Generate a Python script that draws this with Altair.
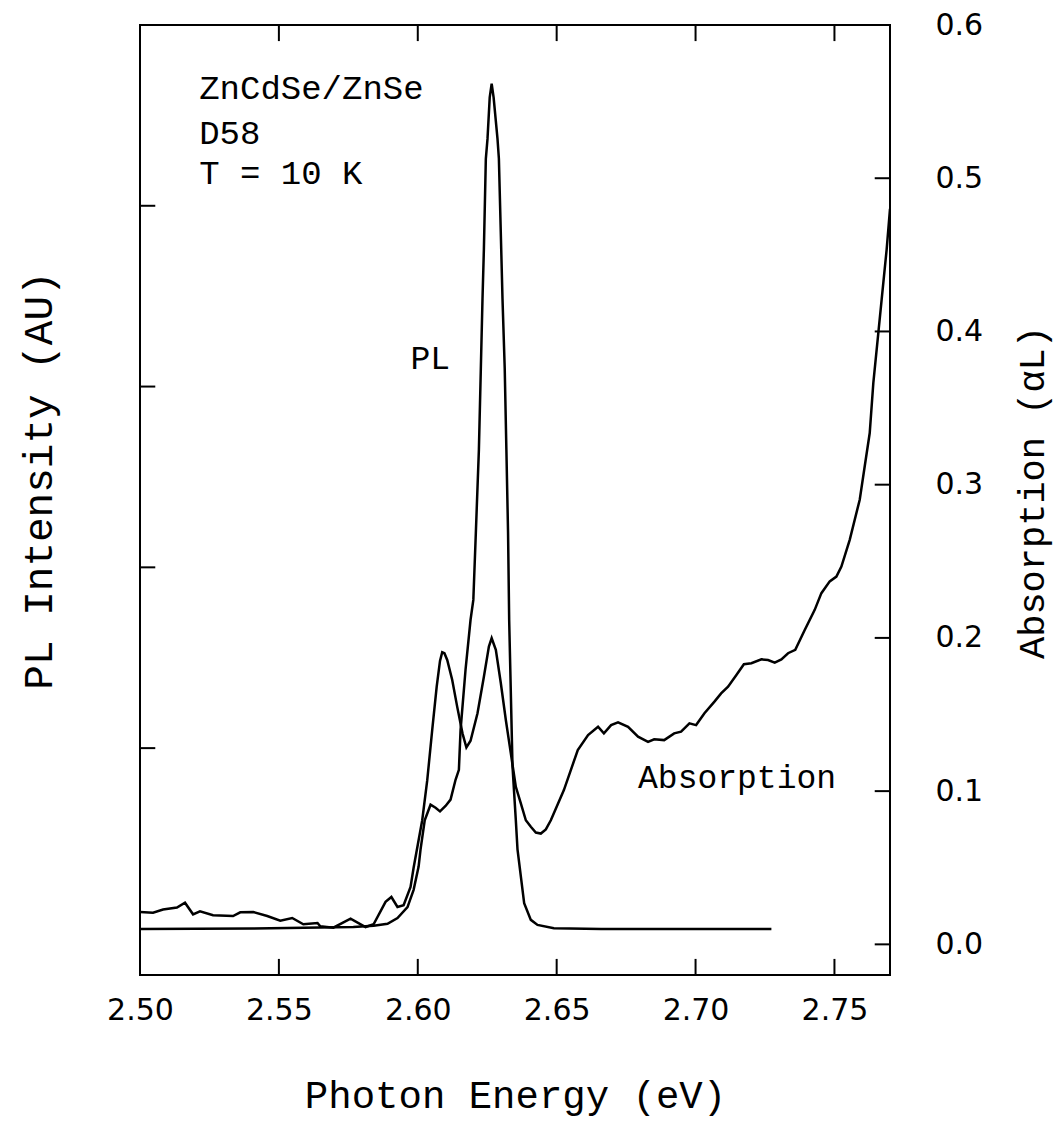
import altair as alt
import pandas as pd

# ---- data ----
pl_energy = [2.5000, 2.5408, 2.5768, 2.5841, 2.5891, 2.5927, 2.5963, 2.5985, 2.6003, 2.6010,
             2.6025, 2.6046, 2.6064, 2.6080, 2.6100, 2.6118, 2.6136, 2.6148, 2.6154, 2.6172,
             2.6190, 2.6200, 2.6209, 2.6220, 2.6227, 2.6233, 2.6238, 2.6245, 2.6251, 2.6259,
             2.6266, 2.6273, 2.6287, 2.6292, 2.6305, 2.6313, 2.6319, 2.6325, 2.6329, 2.6341,
             2.6353, 2.6359, 2.6383, 2.6407, 2.6431, 2.6490, 2.6660, 2.7273]
pl_intensity = [0.000, 0.002, 0.010, 0.017, 0.028, 0.060, 0.120, 0.216, 0.345, 0.440,
                0.600, 0.687, 0.670, 0.650, 0.680, 0.715, 0.825, 0.880, 1.100, 1.435,
                1.710, 1.820, 2.190, 2.650, 3.100, 3.485, 3.760, 4.260, 4.370, 4.600,
                4.676, 4.600, 4.370, 4.260, 3.485, 3.100, 2.650, 2.190, 1.710, 0.900,
                0.600, 0.440, 0.142, 0.050, 0.022, 0.004, 0.000, 0.000]

abs_energy = [2.5000, 2.5047, 2.5083, 2.5133, 2.5162, 2.5191, 2.5216, 2.5263, 2.5335, 2.5361,
              2.5408, 2.5458, 2.5505, 2.5548, 2.5588, 2.5639, 2.5649, 2.5696, 2.5758, 2.5812,
              2.5841, 2.5884, 2.5905, 2.5927, 2.5949, 2.5974, 2.5985, 2.6000, 2.6016, 2.6034,
              2.6052, 2.6068, 2.6080, 2.6088, 2.6096, 2.6106, 2.6124, 2.6142, 2.6161, 2.6175,
              2.6190, 2.6215, 2.6238, 2.6256, 2.6266, 2.6281, 2.6299, 2.6317, 2.6335, 2.6353,
              2.6371, 2.6389, 2.6407, 2.6425, 2.6443, 2.6461, 2.6479, 2.6526, 2.6576, 2.6613,
              2.6649, 2.6670, 2.6696, 2.6721, 2.6757, 2.6793, 2.6829, 2.6851, 2.6887, 2.6923,
              2.6948, 2.6978, 2.7002, 2.7032, 2.7068, 2.7092, 2.7117, 2.7147, 2.7174, 2.7201,
              2.7237, 2.7261, 2.7285, 2.7309, 2.7333, 2.7359, 2.7393, 2.7429, 2.7453, 2.7483,
              2.7507, 2.7525, 2.7555, 2.7591, 2.7609, 2.7627, 2.7640, 2.7658, 2.7670, 2.7688,
              2.7700]
abs_value = [0.0211, 0.0207, 0.0227, 0.0240, 0.0272, 0.0196, 0.0216, 0.0190, 0.0185, 0.0209,
             0.0211, 0.0185, 0.0155, 0.0172, 0.0131, 0.0139, 0.0118, 0.0109, 0.0168, 0.0113,
             0.0131, 0.0277, 0.0309, 0.0244, 0.0255, 0.0375, 0.0500, 0.0650, 0.0810, 0.1070,
             0.1400, 0.1680, 0.1850, 0.1906, 0.1900, 0.1856, 0.1725, 0.1550, 0.1377, 0.1285,
             0.1329, 0.1508, 0.1747, 0.1943, 0.1998, 0.1922, 0.1704, 0.1464, 0.1246, 0.1028,
             0.0920, 0.0810, 0.0767, 0.0730, 0.0723, 0.0750, 0.0810, 0.1007, 0.1268, 0.1366,
             0.1420, 0.1377, 0.1431, 0.1449, 0.1420, 0.1355, 0.1322, 0.1338, 0.1333, 0.1377,
             0.1388, 0.1442, 0.1431, 0.1508, 0.1584, 0.1638, 0.1682, 0.1758, 0.1828, 0.1835,
             0.1860, 0.1856, 0.1839, 0.1860, 0.1900, 0.1922, 0.2052, 0.2183, 0.2292, 0.2369,
             0.2400, 0.2466, 0.2640, 0.2902, 0.3120, 0.3337, 0.3664, 0.3991, 0.4209, 0.4536,
             0.4800]

x_ticks = [2.50, 2.55, 2.60, 2.65, 2.70, 2.75]
abs_ticks = [0.0, 0.1, 0.2, 0.3, 0.4, 0.5, 0.6]
pl_ticks = [1, 2, 3, 4]

info_lines = ["ZnCdSe/ZnSe", "D58", "T = 10 K"]

# ---- layout constants ----
X_DOM = [2.50, 2.77]
A_DOM = [-0.02, 0.60]
P_DOM = [-0.255, 5.0]
SERIF = "Liberation Mono"
SANS = "DejaVu Sans"
LW = 2.5

xs = alt.Scale(domain=X_DOM, nice=False, zero=False)
ys_a = alt.Scale(domain=A_DOM, nice=False, zero=False)
ys_p = alt.Scale(domain=P_DOM, nice=False, zero=False)

pl_df = pd.DataFrame({"E": pl_energy, "P": pl_intensity})
abs_df = pd.DataFrame({"E": abs_energy, "A": abs_value})

x_axis = alt.Axis(values=x_ticks, format=".2f", title="Photon Energy (eV)",
                  ticks=False, domain=False, grid=False, labelFlush=False,
                  labelFont=SANS, labelFontSize=30, labelPadding=20, labelColor="black",
                  titleFont=SERIF, titleFontSize=39, titleFontWeight="normal",
                  titleColor="black", titleY=132, titleBaseline="alphabetic")

right_axis = alt.Axis(orient="right", values=abs_ticks, format=".1f",
                      title="Absorption (\u03b1L)", ticks=False, labelFlush=False,
                      domain=False, grid=False,
                      labelFont=SANS, labelFontSize=30, labelPadding=45, labelColor="black",
                      titleFont=SERIF, titleFontSize=37, titleFontWeight="normal",
                      titleColor="black", titleAngle=270, titleX=153, titleY=467,
                      titleAlign="center", titleBaseline="alphabetic")

left_axis = alt.Axis(orient="left", values=pl_ticks, labels=False, ticks=False,
                     domain=False, grid=False, title="PL Intensity (AU)",
                     titleFont=SERIF, titleFontSize=41, titleFontWeight="normal",
                     titleColor="black", titleAngle=270, titleX=-89, titleY=455,
                     titleAlign="center", titleBaseline="alphabetic")

X = lambda f: alt.X(f, scale=xs, axis=x_axis)
YA = lambda f: alt.Y(f, scale=ys_a, axis=right_axis)
YP = lambda f: alt.Y(f, scale=ys_p, axis=left_axis)

abs_line = alt.Chart(abs_df).mark_line(color="black", strokeWidth=LW, clip=True).encode(
    x=X("E:Q"), y=YA("A:Q"))

TL_A = 0.0105   # tick length in absorption units
TL_E = 0.0055   # tick length in energy units

xt = pd.DataFrame({"E": x_ticks[1:]})
bottom_ticks = alt.Chart(xt).mark_rule(color="black", strokeWidth=2).encode(
    x=X("E:Q"), y=YA("lo:Q"), y2="hi:Q",
).transform_calculate(lo=str(A_DOM[0]), hi=str(A_DOM[0] + TL_A))
top_ticks = alt.Chart(xt).mark_rule(color="black", strokeWidth=2).encode(
    x=X("E:Q"), y=YA("lo:Q"), y2="hi:Q",
).transform_calculate(lo=str(A_DOM[1] - TL_A), hi=str(A_DOM[1]))

at = pd.DataFrame({"A": abs_ticks[:-1]})
right_ticks = alt.Chart(at).mark_rule(color="black", strokeWidth=2).encode(
    x=X("lo:Q"), x2="hi:Q", y=YA("A:Q"),
).transform_calculate(lo=str(X_DOM[1] - TL_E), hi=str(X_DOM[1]))

info_df = pd.DataFrame({"t": info_lines, "E": [2.5213] * 3, "A": [0.5516, 0.5222, 0.4960]})
info_text = alt.Chart(info_df).mark_text(font=SERIF, fontSize=34, align="left",
                                         baseline="alphabetic", color="black").encode(
    x=X("E:Q"), y=YA("A:Q"), text="t:N")

lab_df = pd.DataFrame({"t": ["PL", "Absorption"], "E": [2.5974, 2.6793], "A": [0.3752, 0.1020]})
lab_text = alt.Chart(lab_df).mark_text(font=SERIF, fontSize=33, align="left",
                                       baseline="alphabetic", color="black").encode(
    x=X("E:Q"), y=YA("A:Q"), text="t:N")

group_a = alt.layer(abs_line, bottom_ticks, top_ticks, right_ticks, info_text, lab_text)

pl_line = alt.Chart(pl_df).mark_line(color="black", strokeWidth=LW, clip=True).encode(
    x=X("E:Q"), y=YP("P:Q"))
pt = pd.DataFrame({"P": pl_ticks})
left_ticks = alt.Chart(pt).mark_rule(color="black", strokeWidth=2).encode(
    x=X("lo:Q"), x2="hi:Q", y=YP("P:Q"),
).transform_calculate(lo=str(X_DOM[0]), hi=str(X_DOM[0] + TL_E))

group_p = alt.layer(pl_line, left_ticks)

chart = alt.layer(group_a, group_p).resolve_scale(y="independent").properties(
    width=750, height=950,
    padding={"left": 140, "top": 25, "right": 170, "bottom": 164},
    autosize=alt.AutoSizeParams(type="none"),
    background="white",
).configure_view(stroke="black", strokeWidth=2)

chart.save("out.html", embed_options={"renderer": "svg", "actions": False})
